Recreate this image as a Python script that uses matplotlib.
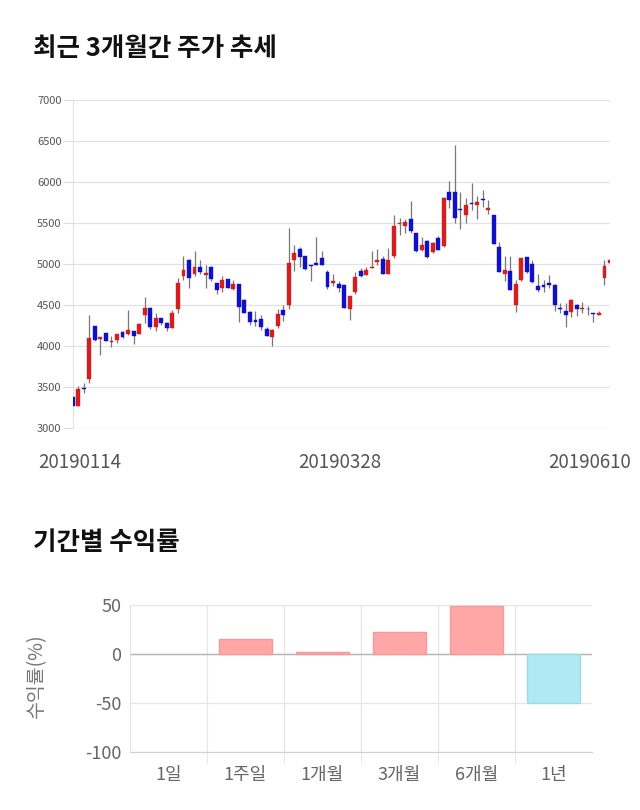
import matplotlib
matplotlib.use("Agg")
import matplotlib.pyplot as plt

plt.rcParams['font.family'] = ['Noto Sans CJK KR', 'DejaVu Sans']
plt.rcParams['axes.unicode_minus'] = False

# daily candles, 2019-01-14 .. 2019-06-10
opens = [3385, 3270, 3485, 3600, 4250, 4085, 4165, 4050, 4075, 4175,
         4150, 4185, 4150, 4375, 4470, 4240, 4340, 4280, 4225, 4450,
         4850, 5055, 4880, 4970, 4865, 4960, 4770, 4705, 4815, 4695,
         4755, 4565, 4420, 4320, 4335, 4210, 4115, 4250, 4445, 4505,
         5045, 5180, 5100, 4990, 5010, 5075, 4900, 4770, 4760, 4745,
         4455, 4655, 4915, 4870, 4950, 5030, 5060, 4880, 5095, 5485,
         5470, 5550, 5380, 5175, 5280, 5145, 5315, 5225, 5880, 5880,
         5675, 5605, 5750, 5720, 5790, 5655, 5600, 5205, 4880, 4920,
         4505, 4810, 5085, 5005, 4730, 4750, 4770, 4750, 4465, 4430,
         4415, 4505, 4450, 4460, 4405, 4380, 4835, 5010]
highs = [3400, 3515, 3550, 4380, 4250, 4115, 4165, 4125, 4145, 4180,
         4445, 4190, 4280, 4595, 4475, 4410, 4345, 4300, 4445, 4835,
         5095, 5060, 5155, 5050, 4990, 4980, 4775, 4850, 4820, 4810,
         4760, 4570, 4425, 4430, 4380, 4240, 4210, 4460, 4500, 5445,
         5235, 5215, 5105, 4995, 5330, 5155, 4930, 4880, 4790, 4745,
         4615, 4900, 4950, 4970, 5155, 5190, 5095, 5200, 5600, 5560,
         5550, 5770, 5385, 5330, 5290, 5275, 5345, 5815, 6010, 6455,
         5880, 5805, 5990, 5830, 5905, 5785, 5600, 5275, 5095, 5095,
         4810, 5080, 5090, 5050, 4875, 4810, 4870, 4755, 4525, 4525,
         4570, 4510, 4540, 4495, 4410, 4430, 5055, 5060]
lows = [3270, 3270, 3425, 3550, 4060, 3890, 4060, 3990, 4040, 4100,
        4140, 4030, 4145, 4280, 4210, 4185, 4265, 4190, 4220, 4400,
        4810, 4705, 4860, 4880, 4705, 4790, 4635, 4665, 4710, 4690,
        4290, 4400, 4260, 4250, 4200, 4120, 4000, 4220, 4310, 4460,
        4915, 4965, 4930, 4800, 4985, 4985, 4695, 4740, 4665, 4470,
        4320, 4640, 4845, 4865, 4950, 4985, 4880, 4880, 5075, 5360,
        5380, 5380, 5150, 5165, 5080, 5140, 5170, 5210, 5685, 5500,
        5430, 5500, 5665, 5555, 5695, 5615, 5240, 4905, 4800, 4680,
        4415, 4800, 4890, 4775, 4665, 4660, 4710, 4425, 4410, 4230,
        4360, 4365, 4400, 4375, 4300, 4375, 4750, 5000]
closes = [3275, 3480, 3480, 4100, 4075, 4115, 4060, 4060, 4145, 4110,
          4200, 4130, 4275, 4465, 4240, 4340, 4280, 4220, 4400, 4770,
          4925, 4835, 4965, 4910, 4890, 4815, 4685, 4810, 4715, 4760,
          4475, 4410, 4295, 4300, 4240, 4130, 4200, 4395, 4375, 5010,
          5135, 5085, 4945, 4980, 4990, 4990, 4720, 4800, 4705, 4470,
          4615, 4845, 4860, 4930, 4965, 5055, 4880, 5050, 5465, 5505,
          5515, 5400, 5155, 5230, 5085, 5255, 5175, 5810, 5785, 5560,
          5665, 5715, 5735, 5760, 5780, 5680, 5245, 4910, 4930, 4685,
          4755, 5075, 4900, 4780, 4680, 4720, 4745, 4505, 4455, 4375,
          4565, 4450, 4470, 4450, 4390, 4405, 4980, 5055]

date_labels = ["20190114", "20190328", "20190610"]
date_ticks = [1.3, 48.3, 93.4]

periods = ["1일", "1주일", "1개월", "3개월", "6개월", "1년"]
returns = [0.0, 15.0, 2.3, 22.0, 48.7, -50.2]

UP = "#d41f1f"
DOWN = "#1010c8"

fig = plt.figure(figsize=(6.4, 8.1), dpi=100)

fig.text(33 / 640, 1 - 49 / 810, "최근 3개월간 주가 추세", fontsize=18.4,
         fontweight="bold", va="center", ha="left", color="#111111")
fig.text(33 / 640, 1 - 542 / 810, "기간별 수익률", fontsize=18.4,
         fontweight="bold", va="center", ha="left", color="#111111")

# --- candlestick chart ---
ax1 = fig.add_axes([0.1136, 0.4712, 0.8395, 0.4053])
xs = range(len(opens))
colors = [UP if c >= o else DOWN for o, c in zip(opens, closes)]
bottoms = [min(o, c) for o, c in zip(opens, closes)]
heights = [max(abs(c - o), 8) for o, c in zip(opens, closes)]
ax1.vlines(xs, lows, highs, color="#777777", linewidth=0.9, zorder=2)
ax1.bar(xs, heights, bottom=bottoms, width=0.7, color=colors,
        edgecolor=colors, linewidth=0.3, zorder=3)

ax1.set_xlim(0, 97)
ax1.set_ylim(3000, 7000)
ax1.set_yticks(range(3000, 7001, 500))
ax1.tick_params(axis="y", labelsize=8, labelcolor="#555555", length=7,
                color="#dddddd", pad=1)
ax1.set_xticks(date_ticks)
ax1.set_xticklabels(date_labels)
ax1.tick_params(axis="x", labelsize=13.5, labelcolor="#555555", length=0, pad=17)
ax1.grid(axis="y", color="#e2e2e2", linewidth=0.9)
ax1.set_axisbelow(True)
for s in ["top", "right", "bottom"]:
    ax1.spines[s].set_visible(False)
ax1.spines["left"].set_color("#e2e2e2")

# --- period returns ---
ax2 = fig.add_axes([0.203, 0.0716, 0.722, 0.1815])
pos = range(len(periods))
bar_fill = ["#ffa6a6" if v >= 0 else "#b0e9f3" for v in returns]
bar_edge = ["#f39a9a" if v >= 0 else "#9fdbe6" for v in returns]
bar_lw = [1 if v != 0 else 0 for v in returns]
ax2.bar(pos, returns, width=0.68, color=bar_fill, edgecolor=bar_edge,
        linewidth=bar_lw, zorder=3)
ax2.axhline(0, color="#b5b5b5", linewidth=1, zorder=2)

ax2.set_xlim(-0.5, len(periods) - 0.5)
ax2.set_ylim(-100, 50)
ax2.set_yticks([-100, -50, 0, 50])
ax2.tick_params(axis="y", labelsize=13, labelcolor="#666666", length=0, pad=6)
ax2.set_xticks(list(pos))
ax2.set_xticklabels(periods)
ax2.tick_params(axis="x", which="major", labelsize=13, labelcolor="#666666",
                length=0, pad=10)
ax2.set_xticks([p + 0.5 for p in pos][:-1], minor=True)
ax2.tick_params(axis="x", which="minor", length=8, color="#e2e2e2")
ax2.grid(axis="y", color="#e5e5e5", linewidth=0.9)
ax2.grid(axis="x", which="minor", color="#e5e5e5", linewidth=0.9)
ax2.set_axisbelow(True)
for s in ["top", "right"]:
    ax2.spines[s].set_visible(False)
ax2.spines["left"].set_color("#e2e2e2")
ax2.spines["bottom"].set_color("#d0d0d0")
ax2.set_ylabel("수익률(%)", fontsize=14, color="#777777")
ax2.yaxis.set_label_coords(-0.18, 0.51)

fig.savefig("out.png", dpi=100)
